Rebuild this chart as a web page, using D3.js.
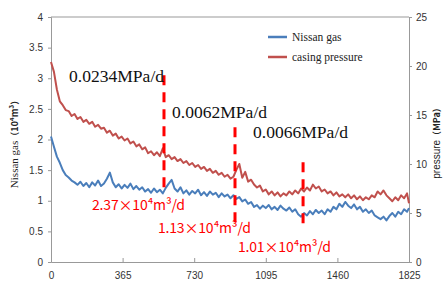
<!DOCTYPE html>
<html lang="en">
<head>
<meta charset="utf-8">
<title>Nissan gas and casing pressure</title>
<script src="https://d3js.org/d3.v7.min.js"></script>
<style>
  body { margin: 0; background: #fff; }
  .tick text { font-family: "Liberation Sans Narrow", "Liberation Sans", sans-serif; font-size: 10px; fill: #333; }
  .axis path, .axis line { stroke: #999; }
</style>
</head>
<body>
<div id="chart"></div>
<script>
// daily records, one reading every 15 days (last one on day 1825)
var step = 15;
var gas = [2.05, 1.88, 1.72, 1.62, 1.50, 1.42, 1.38, 1.33, 1.30, 1.26, 1.31, 1.24, 1.29, 1.22, 1.30, 1.25,
  1.33, 1.24, 1.28, 1.36, 1.46, 1.30, 1.22, 1.27, 1.20, 1.26, 1.21, 1.28, 1.19, 1.24, 1.18, 1.22,
  1.15, 1.19, 1.13, 1.20, 1.14, 1.18, 1.12, 1.21, 1.28, 1.34, 1.20, 1.15, 1.22, 1.12, 1.17, 1.10,
  1.16, 1.12, 1.18, 1.09, 1.14, 1.08, 1.15, 1.10, 1.13, 1.06, 1.12, 1.07, 1.10, 1.04, 1.09, 1.03,
  1.06, 0.99, 1.02, 0.95, 0.98, 0.90, 0.93, 0.87, 0.92, 0.88, 0.93, 0.86, 0.90, 0.85, 0.92, 0.87,
  0.84, 0.89, 0.82, 0.86, 0.78, 0.74, 0.80, 0.76, 0.83, 0.78, 0.85, 0.80, 0.84, 0.78, 0.86, 0.82,
  0.90, 0.86, 0.95, 0.90, 0.98, 0.92, 0.88, 0.94, 0.86, 0.90, 0.82, 0.86, 0.80, 0.84, 0.76, 0.73,
  0.70, 0.74, 0.68, 0.75, 0.80, 0.74, 0.82, 0.78, 0.86, 0.82, 0.88];
var pressure = [20.4, 19.4, 17.6, 16.4, 16.0, 15.5, 15.4, 14.9, 15.1, 14.6, 14.8, 14.3, 14.5, 14.1, 14.3, 13.8,
  14.0, 13.6, 13.7, 13.2, 13.4, 12.9, 13.1, 12.6, 12.8, 12.4, 12.6, 12.1, 12.3, 11.8, 12.0, 11.5,
  11.7, 11.1, 11.3, 10.9, 11.2, 10.8, 11.6, 10.7, 10.9, 10.5, 10.7, 10.3, 10.5, 10.1, 10.3, 9.9,
  10.1, 9.7, 9.9, 9.5, 9.7, 9.3, 9.5, 9.1, 9.3, 8.9, 9.1, 8.7, 8.9, 8.5, 8.7, 9.4,
  10.0, 8.6, 9.2, 8.2, 8.4, 7.9, 7.6, 7.8, 7.2, 7.4, 6.9, 7.2, 6.8, 7.1, 6.7, 7.0,
  6.8, 7.2, 6.9, 7.3, 7.0, 7.5, 7.2, 7.6, 7.3, 7.9, 7.5, 7.7, 7.2, 7.4, 7.0, 7.2,
  6.8, 7.1, 6.7, 6.9, 6.6, 6.9, 6.5, 6.8, 6.4, 6.7, 6.3, 6.6, 6.4, 6.8, 6.6, 7.2,
  6.9, 7.3, 6.8, 6.5, 6.2, 6.6, 6.3, 6.8, 6.5, 7.0, 6.0];

var xTicks = [0, 365, 730, 1095, 1460, 1825];
var gasTicks = [0, 0.5, 1, 1.5, 2, 2.5, 3, 3.5, 4];
var pressureTicks = [0, 5, 10, 15, 20, 25];

// stage boundaries (day) and the span of each dashed marker on the gas axis
var stageDays = [576, 938, 1285];
var stageTop = [3.05, 2.2, 1.63];
var stageBottom = [1.13, 0.55, 0.6];
var pressureRates = ["0.0234MPa/d", "0.0062MPa/d", "0.0066MPa/d"];
var gasRates = ["2.37×10⁴m³/d", "1.13×10⁴m³/d", "1.01×10⁴m³/d"];
var seriesNames = ["Nissan gas", "casing pressure"];

var width = 444, height = 281;
var margin = {top: 17, right: 35, bottom: 19, left: 51};

var svg = d3.select("#chart").append("svg")
  .attr("width", width)
  .attr("height", height);

var x = d3.scaleLinear().domain([0, 1825]).range([margin.left, width - margin.right]);
var yGas = d3.scaleLinear().domain([0, 4]).range([height - margin.bottom, margin.top]);
var yP = d3.scaleLinear().domain([0, 25]).range([height - margin.bottom, margin.top]);

var dayOf = function(i) { return Math.min(i * step, 1825); };
var fmt = function(d) { return String(d); };

// frame top line
svg.append("line")
  .attr("x1", x(0)).attr("x2", x(1825))
  .attr("y1", yGas(4)).attr("y2", yGas(4))
  .attr("stroke", "#999");

// axes
svg.append("g").attr("class", "axis")
  .attr("transform", "translate(0," + yGas(0) + ")")
  .call(d3.axisBottom(x).tickValues(xTicks).tickFormat(fmt).tickSizeInner(-4).tickSizeOuter(0).tickPadding(10));

svg.append("g").attr("class", "axis")
  .attr("transform", "translate(" + x(0) + ",0)")
  .call(d3.axisLeft(yGas).tickValues(gasTicks).tickFormat(fmt).tickSize(3).tickPadding(5));

svg.append("g").attr("class", "axis")
  .attr("transform", "translate(" + x(1825) + ",0)")
  .call(d3.axisRight(yP).tickValues(pressureTicks).tickFormat(fmt).tickSize(3).tickPadding(4));

svg.selectAll(".axis .domain").attr("stroke", "#999");

// lines
var gasLine = d3.line()
  .x(function(d, i) { return x(dayOf(i)); })
  .y(function(d) { return yGas(d); });
var pLine = d3.line()
  .x(function(d, i) { return x(dayOf(i)); })
  .y(function(d) { return yP(d); });

svg.append("path").datum(pressure)
  .attr("d", pLine)
  .attr("fill", "none")
  .attr("stroke", "#c0504d")
  .attr("stroke-width", 2)
  .attr("stroke-linejoin", "round");

svg.append("path").datum(gas)
  .attr("d", gasLine)
  .attr("fill", "none")
  .attr("stroke", "#4a7ebb")
  .attr("stroke-width", 2)
  .attr("stroke-linejoin", "round");

// dashed stage markers
svg.selectAll(".stage").data(stageDays).enter()
  .append("line")
  .attr("class", "stage")
  .attr("x1", function(d) { return x(d); })
  .attr("x2", function(d) { return x(d); })
  .attr("y1", function(d, i) { return yGas(stageTop[i]); })
  .attr("y2", function(d, i) { return yGas(stageBottom[i]); })
  .attr("stroke", "#ff0000")
  .attr("stroke-width", 3)
  .attr("stroke-dasharray", "10,7");

// annotations
var rateAnchor = [[92, 2.94], [617, 2.35], [1030, 2.02]];
svg.selectAll(".prate").data(pressureRates).enter()
  .append("text")
  .attr("class", "prate")
  .attr("x", function(d, i) { return x(rateAnchor[i][0]); })
  .attr("y", function(d, i) { return yGas(rateAnchor[i][1]); })
  .attr("font-family", "Liberation Serif, serif")
  .attr("font-size", 17)
  .attr("textLength", 95)
  .attr("lengthAdjust", "spacingAndGlyphs")
  .attr("fill", "#111")
  .text(function(d) { return d; });

var gasAnchor = [[209, 0.85], [545, 0.47], [953, 0.16]];
svg.selectAll(".grate").data(gasRates).enter()
  .append("text")
  .attr("class", "grate")
  .attr("x", function(d, i) { return x(gasAnchor[i][0]); })
  .attr("y", function(d, i) { return yGas(gasAnchor[i][1]); })
  .attr("font-family", "Noto Sans CJK SC, sans-serif")
  .attr("font-size", 14)
  .attr("textLength", 93)
  .attr("lengthAdjust", "spacing")
  .attr("fill", "#ff0000")
  .text(function(d) { return d; });

// legend
var legendColors = ["#4a7ebb", "#c0504d"];
var lg = svg.selectAll(".lg").data(seriesNames).enter()
  .append("g").attr("class", "lg")
  .attr("transform", function(d, i) { return "translate(268," + (37 + i * 20) + ")"; });
lg.append("line").attr("x1", 0).attr("x2", 19)
  .attr("stroke", function(d, i) { return legendColors[i]; })
  .attr("stroke-width", 2.5);
lg.append("text").attr("x", 24).attr("y", 4)
  .attr("font-family", "Liberation Serif, serif")
  .attr("font-size", 11.5)
  .attr("fill", "#222")
  .text(function(d) { return d; });

// axis titles
var lt = svg.append("text")
  .attr("transform", "translate(18,142) rotate(-90)")
  .attr("text-anchor", "middle")
  .attr("font-size", 11)
  .attr("fill", "#222");
lt.append("tspan").attr("font-family", "Liberation Serif, serif").text("Nissan gas");
lt.append("tspan").attr("font-family", "Noto Sans CJK SC, sans-serif").attr("font-weight", "bold").attr("font-size", 9).text("（10⁴m³）");

var rt = svg.append("text")
  .attr("transform", "translate(440,141) rotate(-90)")
  .attr("text-anchor", "middle")
  .attr("font-size", 10)
  .attr("fill", "#222");
rt.append("tspan").attr("font-family", "Liberation Sans, sans-serif").text("pressure");
rt.append("tspan").attr("font-family", "Noto Sans CJK SC, sans-serif").attr("font-weight", "bold").attr("font-size", 9).text("（MPa）");
</script>
</body>
</html>
